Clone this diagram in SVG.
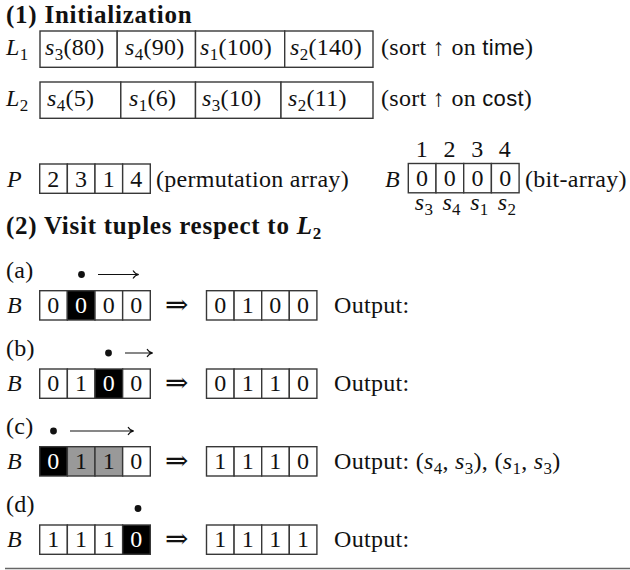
<svg xmlns="http://www.w3.org/2000/svg" width="630" height="570" viewBox="0 0 630 570">
<style>
text{font-family:"Liberation Serif","DejaVu Serif",serif;font-size:24px;fill:#111;letter-spacing:0.3px}
.h{font-weight:bold;font-size:25px;letter-spacing:0.75px}
.i{font-style:italic}
.sub{font-size:17px}
.sf{font-family:"Liberation Sans","DejaVu Sans",sans-serif;font-size:22px}
.c{text-anchor:middle}
.w{fill:#fff}
.ar{font-size:28px}
.box{fill:#fff;stroke:#383838;stroke-width:1.4}
.blk{fill:#000;stroke:#383838;stroke-width:1.4}
.gry{fill:#999;stroke:#383838;stroke-width:1.4}
.ln{stroke:#111;stroke-width:1.1;fill:none}
.dot{fill:#111}
</style>

<g id="heading1"><text class="h" x="6" y="23">(1) Initialization</text></g>

<g id="L1">
<text x="6" y="55"><tspan class="i">L</tspan><tspan class="sub" dy="5">1</tspan></text>
<rect class="box" x="40" y="31" width="77.2" height="36.3"/>
<rect class="box" x="117.2" y="31" width="78.3" height="36.3"/>
<rect class="box" x="195.5" y="31" width="89.2" height="36.3"/>
<rect class="box" x="284.7" y="31" width="88.3" height="36.3"/>
<text x="45" y="55"><tspan class="i">s</tspan><tspan class="sub" dy="5">3</tspan><tspan dy="-5">(80)</tspan></text>
<text x="125" y="55"><tspan class="i">s</tspan><tspan class="sub" dy="5">4</tspan><tspan dy="-5">(90)</tspan></text>
<text x="200" y="55"><tspan class="i">s</tspan><tspan class="sub" dy="5">1</tspan><tspan dy="-5">(100)</tspan></text>
<text x="290" y="55"><tspan class="i">s</tspan><tspan class="sub" dy="5">2</tspan><tspan dy="-5">(140)</tspan></text>
<text x="381" y="55">(sort ↑ on <tspan class="sf">time</tspan>)</text>
</g>

<g id="L2">
<text x="6" y="106"><tspan class="i">L</tspan><tspan class="sub" dy="5">2</tspan></text>
<rect class="box" x="40" y="82" width="80.8" height="36.3"/>
<rect class="box" x="120.8" y="82" width="74.7" height="36.3"/>
<rect class="box" x="195.5" y="82" width="85.5" height="36.3"/>
<rect class="box" x="281" y="82" width="92" height="36.3"/>
<text x="47" y="106"><tspan class="i">s</tspan><tspan class="sub" dy="5">4</tspan><tspan dy="-5">(5)</tspan></text>
<text x="129" y="106"><tspan class="i">s</tspan><tspan class="sub" dy="5">1</tspan><tspan dy="-5">(6)</tspan></text>
<text x="202" y="106"><tspan class="i">s</tspan><tspan class="sub" dy="5">3</tspan><tspan dy="-5">(10)</tspan></text>
<text x="288" y="106"><tspan class="i">s</tspan><tspan class="sub" dy="5">2</tspan><tspan dy="-5">(11)</tspan></text>
<text x="381" y="106">(sort ↑ on <tspan class="sf">cost</tspan>)</text>
</g>

<g id="P">
<text class="i" x="7" y="186.5">P</text>
<rect class="box" x="39.7" y="164" width="27.65" height="29.3"/>
<rect class="box" x="67.35" y="164" width="27.65" height="29.3"/>
<rect class="box" x="95" y="164" width="27.65" height="29.3"/>
<rect class="box" x="122.65" y="164" width="27.65" height="29.3"/>
<text class="c" x="53.5" y="186.5">2</text>
<text class="c" x="81.2" y="186.5">3</text>
<text class="c" x="108.8" y="186.5">1</text>
<text class="c" x="136.5" y="186.5">4</text>
<text x="156" y="186.5">(permutation array)</text>
</g>

<g id="Bbits">
<text class="c" x="422" y="157">1</text>
<text class="c" x="449.7" y="157">2</text>
<text class="c" x="477.4" y="157">3</text>
<text class="c" x="505" y="157">4</text>
<text class="i" x="385" y="186.5">B</text>
<rect class="box" x="408.3" y="163.5" width="27.7" height="29.3"/>
<rect class="box" x="436" y="163.5" width="27.7" height="29.3"/>
<rect class="box" x="463.7" y="163.5" width="27.7" height="29.3"/>
<rect class="box" x="491.4" y="163.5" width="27.7" height="29.3"/>
<text class="c" x="422.2" y="186">0</text>
<text class="c" x="449.9" y="186">0</text>
<text class="c" x="477.6" y="186">0</text>
<text class="c" x="505.3" y="186">0</text>
<text x="525" y="186.5">(bit-array)</text>
<text class="c" x="424" y="209.5"><tspan class="i">s</tspan><tspan class="sub" dy="5">3</tspan></text>
<text class="c" x="451.7" y="209.5"><tspan class="i">s</tspan><tspan class="sub" dy="5">4</tspan></text>
<text class="c" x="479.4" y="209.5"><tspan class="i">s</tspan><tspan class="sub" dy="5">1</tspan></text>
<text class="c" x="507" y="209.5"><tspan class="i">s</tspan><tspan class="sub" dy="5">2</tspan></text>
</g>

<g id="heading2"><text class="h" x="6" y="234">(2) Visit tuples respect to <tspan class="i">L</tspan><tspan class="sub" dy="5">2</tspan></text></g>

<g id="rowA">
<text x="6" y="277.5">(a)</text>
<text class="i" x="7" y="313">B</text>
<rect class="box" x="39.7" y="290.7" width="27.65" height="29.3"/>
<rect class="blk" x="67.35" y="290.7" width="27.65" height="29.3"/>
<rect class="box" x="95" y="290.7" width="27.65" height="29.3"/>
<rect class="box" x="122.65" y="290.7" width="27.65" height="29.3"/>
<text class="c" x="53.5" y="312.7">0</text>
<text class="c w" x="81.2" y="312.7">0</text>
<text class="c" x="108.8" y="312.7">0</text>
<text class="c" x="136.5" y="312.7">0</text>
<text class="c ar" x="177" y="313.5">⇒</text>
<rect class="box" x="206.5" y="290.7" width="27.6" height="29.3"/>
<rect class="box" x="234.1" y="290.7" width="27.6" height="29.3"/>
<rect class="box" x="261.7" y="290.7" width="27.6" height="29.3"/>
<rect class="box" x="289.3" y="290.7" width="27.6" height="29.3"/>
<text class="c" x="220.3" y="312.7">0</text>
<text class="c" x="247.9" y="312.7">1</text>
<text class="c" x="275.5" y="312.7">0</text>
<text class="c" x="303.1" y="312.7">0</text>
<text x="334" y="312.7">Output:</text>
</g>

<g id="rowB">
<text x="6" y="356">(b)</text>
<text class="i" x="7" y="391.3">B</text>
<rect class="box" x="39.7" y="369" width="27.65" height="29.3"/>
<rect class="box" x="67.35" y="369" width="27.65" height="29.3"/>
<rect class="blk" x="95" y="369" width="27.65" height="29.3"/>
<rect class="box" x="122.65" y="369" width="27.65" height="29.3"/>
<text class="c" x="53.5" y="391">0</text>
<text class="c" x="81.2" y="391">1</text>
<text class="c w" x="108.8" y="391">0</text>
<text class="c" x="136.5" y="391">0</text>
<text class="c ar" x="177" y="391.8">⇒</text>
<rect class="box" x="206.5" y="369" width="27.6" height="29.3"/>
<rect class="box" x="234.1" y="369" width="27.6" height="29.3"/>
<rect class="box" x="261.7" y="369" width="27.6" height="29.3"/>
<rect class="box" x="289.3" y="369" width="27.6" height="29.3"/>
<text class="c" x="220.3" y="391">0</text>
<text class="c" x="247.9" y="391">1</text>
<text class="c" x="275.5" y="391">1</text>
<text class="c" x="303.1" y="391">0</text>
<text x="334" y="391">Output:</text>
</g>

<g id="rowC">
<text x="6" y="433.5">(c)</text>
<text class="i" x="7" y="469">B</text>
<rect class="blk" x="39.7" y="446.7" width="27.65" height="29.3"/>
<rect class="gry" x="67.35" y="446.7" width="27.65" height="29.3"/>
<rect class="gry" x="95" y="446.7" width="27.65" height="29.3"/>
<rect class="box" x="122.65" y="446.7" width="27.65" height="29.3"/>
<text class="c w" x="53.5" y="468.7">0</text>
<text class="c" x="81.2" y="468.7">1</text>
<text class="c" x="108.8" y="468.7">1</text>
<text class="c" x="136.5" y="468.7">0</text>
<text class="c ar" x="177" y="469.5">⇒</text>
<rect class="box" x="206.5" y="446.7" width="27.6" height="29.3"/>
<rect class="box" x="234.1" y="446.7" width="27.6" height="29.3"/>
<rect class="box" x="261.7" y="446.7" width="27.6" height="29.3"/>
<rect class="box" x="289.3" y="446.7" width="27.6" height="29.3"/>
<text class="c" x="220.3" y="468.7">1</text>
<text class="c" x="247.9" y="468.7">1</text>
<text class="c" x="275.5" y="468.7">1</text>
<text class="c" x="303.1" y="468.7">0</text>
<text x="334" y="468.7">Output: (<tspan class="i">s</tspan><tspan class="sub" dy="5">4</tspan><tspan dy="-5">, </tspan><tspan class="i">s</tspan><tspan class="sub" dy="5">3</tspan><tspan dy="-5">), (</tspan><tspan class="i">s</tspan><tspan class="sub" dy="5">1</tspan><tspan dy="-5">, </tspan><tspan class="i">s</tspan><tspan class="sub" dy="5">3</tspan><tspan dy="-5">)</tspan></text>
</g>

<g id="rowD">
<text x="6" y="511.5">(d)</text>
<text class="i" x="7" y="547.3">B</text>
<rect class="box" x="39.7" y="525" width="27.65" height="29.3"/>
<rect class="box" x="67.35" y="525" width="27.65" height="29.3"/>
<rect class="box" x="95" y="525" width="27.65" height="29.3"/>
<rect class="blk" x="122.65" y="525" width="27.65" height="29.3"/>
<text class="c" x="53.5" y="547">1</text>
<text class="c" x="81.2" y="547">1</text>
<text class="c" x="108.8" y="547">1</text>
<text class="c w" x="136.5" y="547">0</text>
<text class="c ar" x="177" y="547.8">⇒</text>
<rect class="box" x="206.5" y="525" width="27.6" height="29.3"/>
<rect class="box" x="234.1" y="525" width="27.6" height="29.3"/>
<rect class="box" x="261.7" y="525" width="27.6" height="29.3"/>
<rect class="box" x="289.3" y="525" width="27.6" height="29.3"/>
<text class="c" x="220.3" y="547">1</text>
<text class="c" x="247.9" y="547">1</text>
<text class="c" x="275.5" y="547">1</text>
<text class="c" x="303.1" y="547">1</text>
<text x="334" y="547">Output:</text>
</g>

<g id="connectors">
<circle class="dot" cx="81.5" cy="274.5" r="3.4"/>
<path class="ln" d="M98 274.5H138.5M133 270.5C134.5 273 136.5 274.2 138.8 274.5C136.5 274.8 134.5 276 133 278.5"/>
<circle class="dot" cx="108.5" cy="353" r="3.4"/>
<path class="ln" d="M125 353H152.5M147 349C148.5 351.5 150.5 352.7 152.8 353C150.5 353.3 148.5 354.5 147 357"/>
<circle class="dot" cx="53.5" cy="431" r="3.4"/>
<path class="ln" d="M70 431H133.5M128 427C129.5 429.5 131.5 430.7 133.8 431C131.5 431.3 129.5 432.5 128 435"/>
<circle class="dot" cx="138" cy="508.5" r="3.4"/>
</g>

<line x1="5" y1="568.5" x2="630" y2="568.5" stroke="#666" stroke-width="1.5"/>
</svg>
